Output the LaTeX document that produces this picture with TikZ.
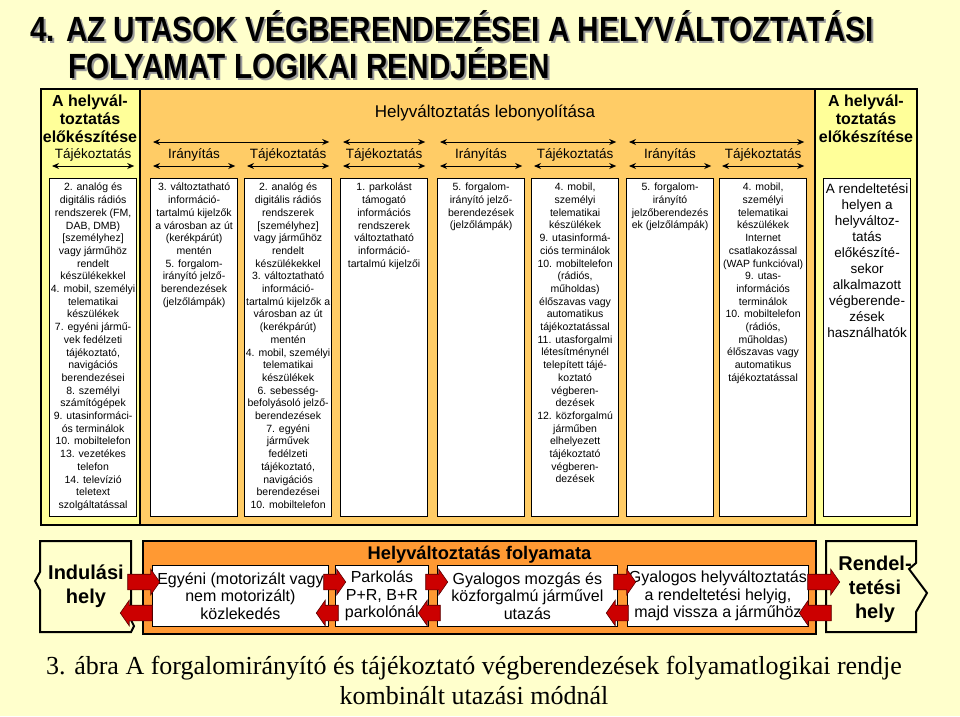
\documentclass[tikz,border=0pt]{standalone}
\usepackage{fontspec}
\setmainfont{Liberation Sans}
\newfontfamily\capfont{Liberation Serif}
\usetikzlibrary{positioning,shapes.arrows,arrows.meta}

\definecolor{bgcream}{HTML}{FFFFCC}
\definecolor{headyellow}{HTML}{FFFF99}
\definecolor{headorange}{HTML}{FFCC66}
\definecolor{floworange}{HTML}{FF9933}
\definecolor{arrowred}{HTML}{CC0000}
\definecolor{titlegray}{HTML}{9A9A9A}

\tikzset{
	colbox/.style={draw=black,line width=1.2pt,fill=white,minimum width=87pt,minimum height=338pt,anchor=north west,inner sep=0pt},
	coltext/.style={align=center,font=\fontsize{10.5}{12.7}\selectfont,inner sep=0pt},
	headbold/.style={align=center,font=\bfseries\fontsize{16}{18}\selectfont,inner sep=0pt},
	headlabel/.style={font=\fontsize{13.5}{15}\selectfont,inner sep=0pt},
	headarrow/.style={{Stealth[length=7pt,width=6pt]}-{Stealth[length=7pt,width=6pt]},line width=0.9pt},
	flowbox/.style={draw=black,line width=0.8pt,fill=white,anchor=north west,minimum height=61pt,inner sep=0pt,align=center,font=\fontsize{16}{17.5}\selectfont},
	endtext/.style={align=center,font=\bfseries\fontsize{20}{24}\selectfont,inner sep=0pt},
	redarrow/.style={single arrow,draw=red!35!black,fill=arrowred,line width=0.6pt,inner xsep=0pt,inner ysep=7.5pt,single arrow head extend=5pt,single arrow tip angle=110},
	titletext/.style={anchor=west,inner sep=0pt,font=\bfseries\fontsize{35}{35}\selectfont}
}

\begin{document}
\begin{tikzpicture}[x=1pt,y=-1pt]
	\useasboundingbox (0,0) rectangle (960,716);
	\fill[bgcream] (0,0) rectangle (960,716);

	% cim
	\node[titletext,titlegray] at (32,28) {\scalebox{0.85}[1]{4. AZ UTASOK VÉGBERENDEZÉSEI A HELYVÁLTOZTATÁSI}};
	\node[titletext] (title1) at (30,26) {\scalebox{0.85}[1]{4. AZ UTASOK VÉGBERENDEZÉSEI A HELYVÁLTOZTATÁSI}};
	\node[titletext,titlegray] at (70,65) {\scalebox{0.85}[1]{FOLYAMAT LOGIKAI RENDJÉBEN}};
	\node[titletext] (title2) at (68,63) {\scalebox{0.85}[1]{FOLYAMAT LOGIKAI RENDJÉBEN}};

	% tablazat
	\fill[headorange] (41,89) rectangle (815,525);
	\fill[headyellow] (41,89) rectangle (140,525);
	\fill[headyellow] (815,89) rectangle (917,525);
	\draw[line width=2.5pt] (41,89) rectangle (917,525);
	\draw[line width=2.5pt] (140,89) -- (140,525) (815,89) -- (815,525);

	\node[headbold] (lhead) at (90,119) {A helyvál-\\toztatás\\előkészítése};
	\node[headbold] (rhead) at (866,119) {A helyvál-\\toztatás\\előkészítése};
	\node[font=\fontsize{17}{20}\selectfont,inner sep=0pt] (mhead) at (485,113) {Helyváltoztatás lebonyolítása};

	\node[colbox] (c1) at (49,178) {};
	\node[colbox] (c2) at (150,178) {};
	\node[colbox] (c3) at (244,178) {};
	\node[colbox] (c4) at (340,178) {};
	\node[colbox] (c5) at (437,178) {};
	\node[colbox] (c6) at (531,178) {};
	\node[colbox] (c7) at (626,178) {};
	\node[colbox] (c8) at (719,178) {};
	\node[colbox] (c9) at (823,178) {};

	\foreach \c/\txt in {c1/Tájékoztatás,c2/Irányítás,c3/Tájékoztatás,c4/Tájékoztatás,c5/Irányítás,c6/Tájékoztatás,c7/Irányítás,c8/Tájékoztatás}{
		\node[headlabel,above=17pt of \c.north] (lab\c) {\txt};
		\draw[headarrow] ([xshift=3pt,yshift=12pt]\c.north west) -- ([xshift=-3pt,yshift=12pt]\c.north east);
	}
	\draw[headarrow] ([xshift=3pt,yshift=36pt]c2.north west) -- ([xshift=-3pt,yshift=36pt]c3.north east);
	\draw[headarrow] ([xshift=3pt,yshift=36pt]c4.north west) -- ([xshift=-3pt,yshift=36pt]c4.north east);
	\draw[headarrow] ([xshift=3pt,yshift=36pt]c5.north west) -- ([xshift=-3pt,yshift=36pt]c6.north east);
	\draw[headarrow] ([xshift=3pt,yshift=36pt]c7.north west) -- ([xshift=-3pt,yshift=36pt]c8.north east);

	\node[coltext,below=5pt of c1.north] (t1) {2. analóg és\\digitális rádiós\\rendszerek (FM,\\DAB, DMB)\\{[személyhez]}\\vagy járműhöz\\rendelt\\készülékekkel\\4. mobil, személyi\\telematikai\\készülékek\\7. egyéni jármű-\\vek fedélzeti\\tájékoztató,\\navigációs\\berendezései\\8. személyi\\számítógépek\\9. utasinformáci-\\ós terminálok\\10. mobiltelefon\\13. vezetékes\\telefon\\14. televízió\\teletext\\szolgáltatással};
	\node[coltext,below=5pt of c2.north] (t2) {3. változtatható\\információ-\\tartalmú kijelzők\\a városban az út\\(kerékpárút)\\mentén\\5. forgalom-\\irányító jelző-\\berendezések\\(jelzőlámpák)};
	\node[coltext,below=5pt of c3.north] (t3) {2. analóg és\\digitális rádiós\\rendszerek\\{[személyhez]}\\vagy járműhöz\\rendelt\\készülékekkel\\3. változtatható\\információ-\\tartalmú kijelzők a\\városban az út\\(kerékpárút)\\mentén\\4. mobil, személyi\\telematikai\\készülékek\\6. sebesség-\\befolyásoló jelző-\\berendezések\\7. egyéni\\járművek\\fedélzeti\\tájékoztató,\\navigációs\\berendezései\\10. mobiltelefon};
	\node[coltext,below=5pt of c4.north] (t4) {1. parkolást\\támogató\\információs\\rendszerek\\változtatható\\információ-\\tartalmú kijelzői};
	\node[coltext,below=5pt of c5.north] (t5) {5. forgalom-\\irányító jelző-\\berendezések\\(jelzőlámpák)};
	\node[coltext,below=5pt of c6.north] (t6) {4. mobil,\\személyi\\telematikai\\készülékek\\9. utasinformá-\\ciós terminálok\\10. mobiltelefon\\(rádiós,\\műholdas)\\élőszavas vagy\\automatikus\\tájékoztatással\\11. utasforgalmi\\létesítménynél\\telepített tájé-\\koztató\\végberen-\\dezések\\12. közforgalmú\\járműben\\elhelyezett\\tájékoztató\\végberen-\\dezések};
	\node[coltext,below=5pt of c7.north] (t7) {5. forgalom-\\irányító\\jelzőberendezés\\ek (jelzőlámpák)};
	\node[coltext,below=5pt of c8.north] (t8) {4. mobil,\\személyi\\telematikai\\készülékek\\Internet\\csatlakozással\\(WAP funkcióval)\\9. utas-\\információs\\terminálok\\10. mobiltelefon\\(rádiós,\\műholdas)\\élőszavas vagy\\automatikus\\tájékoztatással};
	\node[coltext,font=\fontsize{13.5}{16}\selectfont,below=5pt of c9.north] (t9) {A rendeltetési\\helyen a\\helyváltoz-\\tatás\\előkészíté-\\sekor\\alkalmazott\\végberende-\\zések\\használhatók};

	% folyamat
	\draw[line width=2pt,fill=bgcream] (40,541) -- (131,541) -- (131,620) -- (134,626) -- (131,632) -- (40,632) -- (40,590) -- (35,581) -- (40,572) -- cycle;
	\node[endtext] (start) at (86,586) {Indulási\\hely};
	\draw[line width=2pt,fill=bgcream] (826,541) -- (916,541) -- (916,563) -- (909,569) -- (927,593) -- (916,612) -- (916,632) -- (826,632) -- cycle;
	\node[endtext] (goal) at (875,589) {Rendel-\\tetési\\hely};

	\node[draw=black,line width=2pt,fill=floworange,minimum width=673pt,minimum height=93pt,anchor=north west,inner sep=0pt] (flow) at (142,540) {};
	\node[font=\bfseries\fontsize{18.3}{20}\selectfont,inner sep=0pt,below=6pt of flow.north] (flowtitle) {Helyváltoztatás folyamata};

	\node[flowbox,minimum width=176pt] (b1) at (152,565) {Egyéni (motorizált vagy\\nem motorizált)\\közlekedés};
	\node[flowbox,minimum width=93pt] (b2) at (335,565) {Parkolás\\P+R, B+R\\parkolónál};
	\node[flowbox,minimum width=180pt] (b3) at (437,565) {Gyalogos mozgás és\\közforgalmú járművel\\utazás};
	\node[flowbox,minimum width=181pt] (b4) at (627,565) {Gyalogos helyváltoztatás\\a rendeltetési helyig,\\majd vissza a járműhöz};

	\node[redarrow,minimum height=32pt] (r1) at (141,582) {};
	\node[redarrow,minimum height=32pt,shape border rotate=180] (l1) at (139,613) {};
	\node[redarrow,minimum height=22pt] (r2) at (332,582) {};
	\node[redarrow,minimum height=22pt,shape border rotate=180] (l2) at (330,613) {};
	\node[redarrow,minimum height=22pt] (r3) at (434,582) {};
	\node[redarrow,minimum height=22pt,shape border rotate=180] (l3) at (432,613) {};
	\node[redarrow,minimum height=22pt] (r4) at (622,582) {};
	\node[redarrow,minimum height=22pt,shape border rotate=180] (l4) at (620,613) {};
	\node[redarrow,minimum height=32pt] (r5) at (821,582) {};
	\node[redarrow,minimum height=32pt,shape border rotate=180] (l5) at (818,613) {};

	% abra felirat
	\node[align=center,inner sep=0pt,font=\capfont\fontsize{26}{30}\selectfont] (caption) at (474,680) {3. ábra A forgalomirányító és tájékoztató végberendezések folyamatlogikai rendje\\kombinált utazási módnál};
\end{tikzpicture}
\end{document}
